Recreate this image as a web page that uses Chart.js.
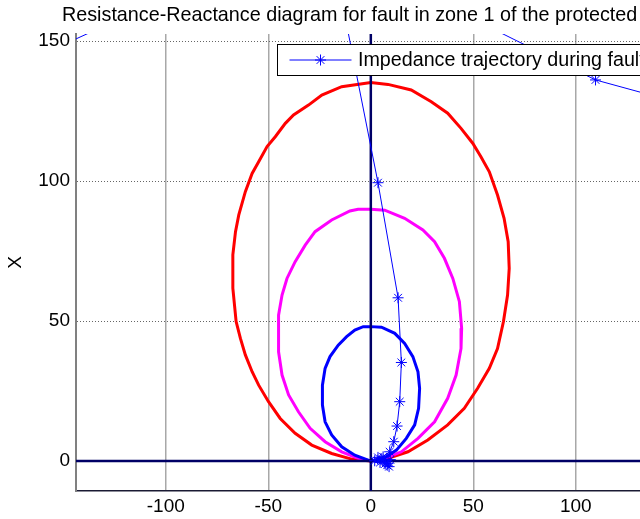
<!DOCTYPE html>
<html>
<head>
<meta charset="utf-8">
<script src="https://cdn.jsdelivr.net/npm/chart.js@4/dist/chart.umd.min.js"></script>
<style>
    html, body { margin: 0; padding: 0; background: #fff; overflow: hidden; width: 640px; height: 519px; }
    #wrap { width: 700px; height: 519px; }
</style>
</head>
<body>
<div id="wrap"><canvas id="grafico" width="700" height="519"></canvas></div>
<script>
//  -- dados (R, X) --
const tituloGrafico = "Resistance-Reactance diagram for fault in zone 1 of the protected line";
const legendaTrajetoria = "Impedance trajectory during fault";

const xTicks = [-100, -50, 0, 50, 100];
const yTicks = [0, 50, 100, 150];
const xLimites = [-143.8, 139.1];
const yLimites = [-10.7, 152.5];

// zona 3 (vermelho)
const zona3 = [
    [0, 0], [-9.4, 0.7], [-19.1, 2.7], [-28.8, 5.7], [-36.9, 9.9], [-44.2, 15.2], [-49.9, 21.2],
    [-54.7, 27.1], [-57.9, 31.9], [-61.2, 37.9], [-63.6, 43.8], [-65.7, 49.8], [-67.3, 61.7],
    [-67.3, 73.6], [-66, 81.9], [-64.4, 87.9], [-61.2, 96.2], [-57.9, 102.7], [-54.7, 106.9],
    [-50.6, 112.3], [-46.6, 115.8], [-41.7, 120.6], [-37.7, 123.6], [-30.4, 127.1], [-23.9, 130.7],
    [-14.2, 133.7], [0, 135.2], [8.4, 134.5], [19.7, 132.5], [29.5, 128.3], [37.5, 124.2],
    [44, 118.8], [49.7, 113.5], [53.7, 108.7], [57.8, 103.3], [61.8, 95], [65, 86.7], [67, 78.3],
    [67.5, 68.8], [66.7, 59.3], [64.7, 49.8], [61.8, 40.2], [57.8, 33.1], [52.1, 26], [45.6, 18.8],
    [37.5, 12.9], [27.8, 7.5], [18.1, 3.3], [8.4, 1], [0, 0]
];

// zona 2 (magenta)
const zona2 = [
    [0, 0], [-6.2, 1], [-14.2, 3.3], [-22.3, 6.9], [-29.6, 11.7], [-35.3, 17.6], [-40.1, 23.6],
    [-43.3, 30.7], [-45, 39], [-45, 52.1], [-43.3, 59.3], [-40.9, 65.2], [-36.9, 71.2], [-32, 77.1],
    [-27.2, 81.9], [-19.1, 86.1], [-10.2, 89.3], [-6.2, 89.9], [0, 89.9], [6.8, 89.6], [16.5, 86.7],
    [25.4, 82.5], [31.1, 78.3], [35.9, 72.4], [40, 65.2], [43.2, 56.9], [44.3, 47.4], [44, 40.2],
    [41.6, 30.7], [37.5, 22.4], [31.1, 14], [23, 8.1], [14.9, 3.3], [6.8, 1], [0, 0]
];

// zona 1 (azul)
const zona1 = [
    [0, 0], [-7.8, 2.1], [-14.2, 5.1], [-19.1, 9.3], [-22.3, 14], [-23.6, 20], [-23.6, 27.1],
    [-22.3, 33.1], [-19.9, 37.3], [-15.9, 41.4], [-11.8, 44.4], [-7.8, 46.8], [-3.7, 48], [0, 48],
    [5.2, 47.8], [11.7, 45.6], [16.5, 42], [20.5, 37.3], [23, 31.9], [23.8, 26], [23.3, 18.8],
    [21.4, 12.9], [17.3, 8.1], [12.5, 3.9], [6.8, 1.2], [0, 0]
];

// trajetória da impedância
const trajetoria = [
    [160, 126], [109.6, 136.1], [45, 159.6], [-110, 162], [-165, 143.7], [-165, 200], [-17, 175],
    [3.5, 99.4], [13.3, 58.3], [14.9, 35.2], [14.1, 21.2], [12.8, 12.5], [11.2, 6.9], [9.2, 3.3],
    [6, 1.5], [3.5, 1.3], [1.9, 0.1], [4.5, -0.5], [6, 0.4], [8.4, -0.8], [8.9, -2], [7, -1],
    [9.5, 0.5], [5, 0.8], [8, -1.5]
];

// eixos R = 0 e X = 0
const eixoVertical = [[0, -20], [0, 200]];
const eixoHorizontal = [[-200, 0], [200, 0]];

const fonte = '"Liberation Sans", Arial, Helvetica, sans-serif';

function toPts(arr) {
    return arr.map(p => ({ x: p[0], y: p[1] }));
}

function linha(pts, cor, largura, ordem) {
    return {
        data: toPts(pts),
        showLine: true,
        borderColor: cor,
        borderWidth: largura,
        pointRadius: 0,
        fill: false,
        tension: 0,
        clip: 0,
        order: ordem
    };
}

//  -- título e legenda desenhados por plugin --
const tituloPlugin = {
    id: 'titulo',
    afterDraw(chart) {
        const ctx = chart.ctx;
        ctx.save();
        ctx.font = '19.75px ' + fonte;
        ctx.fillStyle = '#000';
        ctx.textAlign = 'left';
        ctx.textBaseline = 'alphabetic';
        ctx.fillText(tituloGrafico, 62, 21);
        ctx.restore();
    }
};

const legendaPlugin = {
    id: 'legendaBox',
    afterDatasetsDraw(chart) {
        const ctx = chart.ctx;
        const x0 = 277.5, y0 = 44.5, w = 380, h = 31;
        ctx.save();
        ctx.fillStyle = '#fff';
        ctx.fillRect(x0, y0, w, h);
        ctx.strokeStyle = '#000';
        ctx.lineWidth = 1;
        ctx.strokeRect(x0, y0, w, h);

        const cy = y0 + h / 2;
        ctx.strokeStyle = '#0000ff';
        ctx.beginPath();
        ctx.moveTo(x0 + 12, cy);
        ctx.lineTo(x0 + 74, cy);
        ctx.stroke();
        Chart.helpers.drawPoint(ctx, { pointStyle: 'star', radius: 5.5, borderWidth: 1, rotation: 0 }, x0 + 43, cy);

        ctx.fillStyle = '#000';
        ctx.font = '19.7px ' + fonte;
        ctx.textAlign = 'left';
        ctx.textBaseline = 'middle';
        ctx.fillText(legendaTrajetoria, x0 + 80.5, cy + 1);
        ctx.restore();
    }
};

window.onload = () => {
    const ctx = document.getElementById("grafico").getContext("2d");

    const dsTrajetoria = linha(trajetoria, '#0000ff', 1, 0);
    dsTrajetoria.pointRadius = 5.5;
    dsTrajetoria.pointStyle = 'star';
    dsTrajetoria.pointBorderColor = '#0000ff';
    dsTrajetoria.pointBorderWidth = 1;
    dsTrajetoria.label = legendaTrajetoria;

    new Chart(ctx, {
        type: 'scatter',
        data: {
            datasets: [
                dsTrajetoria,
                linha(eixoVertical, '#000066', 2.5, 1),
                linha(eixoHorizontal, '#000066', 2.5, 1),
                linha(zona1, '#0000ff', 3, 2),
                linha(zona2, '#ff00ff', 3, 3),
                linha(zona3, '#ff0000', 3, 4)
            ]
        },
        options: {
            responsive: false,
            animation: false,
            devicePixelRatio: 1,
            layout: { padding: { top: 34, right: 44, bottom: 0, left: 0 } },
            plugins: {
                legend: { display: false },
                tooltip: { enabled: false },
                title: { display: false }
            },
            scales: {
                x: {
                    type: 'linear',
                    min: xLimites[0],
                    max: xLimites[1],
                    afterBuildTicks: s => { s.ticks = xTicks.map(v => ({ value: v })); },
                    afterFit: s => { s.height = 28; },
                    grid: { color: '#a8a8a8', lineWidth: 1.5, drawTicks: false },
                    border: { display: true, color: '#1a1a33', width: 1.5 },
                    ticks: { padding: 4, color: '#000', font: { family: fonte, size: 19 }, maxRotation: 0 }
                },
                y: {
                    type: 'linear',
                    min: yLimites[0],
                    max: yLimites[1],
                    afterBuildTicks: s => { s.ticks = yTicks.map(v => ({ value: v })); },
                    afterFit: s => { s.width = 76; },
                    grid: { color: '#666', lineWidth: 1, drawTicks: false },
                    border: { display: true, color: '#808080', width: 2, dash: [1, 2] },
                    title: { display: true, text: 'X', color: '#000', font: { family: fonte, size: 19 }, padding: { top: 4, bottom: 0 } },
                    ticks: { padding: 6, color: '#000', font: { family: fonte, size: 19 } }
                }
            }
        },
        plugins: [legendaPlugin, tituloPlugin]
    });
};
</script>
</body>
</html>
